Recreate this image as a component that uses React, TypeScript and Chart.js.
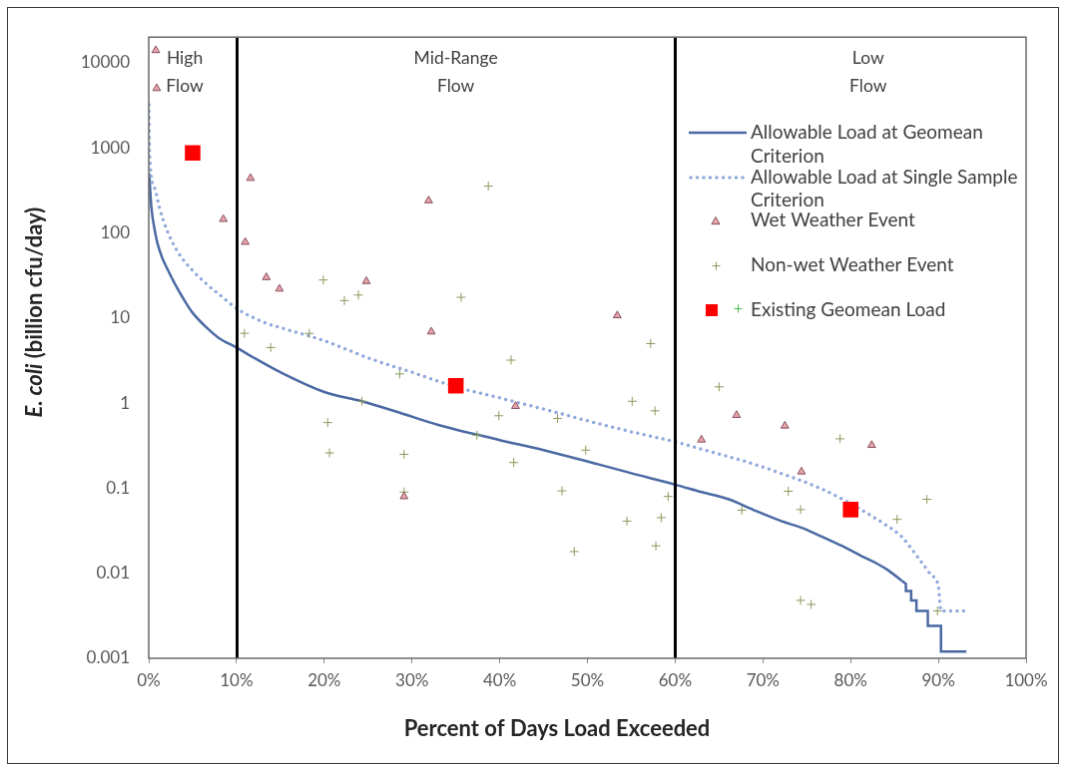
import React, { useEffect, useRef } from 'react';
import { Chart, registerables } from 'chart.js';

Chart.register(...registerables);

// ---------- data ----------
const xTickValues = [0, 10, 20, 30, 40, 50, 60, 70, 80, 90, 100];
const yTickValues = [0.001, 0.01, 0.1, 1, 10, 100, 1000, 10000];
const zoneBoundaries = [10, 60];
const zoneNames = [['High', 'Flow'], ['Mid-Range', 'Flow'], ['Low', 'Flow']];

// smooth part of the geomean allowable-load curve
const geomeanX = [0.05, 0.3, 0.7, 1, 1.5, 2, 3, 4, 5, 6.6, 8, 10, 12, 15, 20, 24.3, 28.6, 33.1, 39.9, 45, 51.3, 55, 60, 63, 66.1, 69, 72.1, 74.5, 76.7, 79, 81.2, 83, 84.3, 85.8];
const geomeanY = [500, 200, 105, 75, 52, 40, 25, 16.5, 11.5, 7.7, 5.8, 4.5, 3.4, 2.3, 1.35, 1.05, 0.77, 0.55, 0.37, 0.28, 0.19, 0.15, 0.11, 0.09, 0.074, 0.055, 0.041, 0.034, 0.027, 0.021, 0.016, 0.013, 0.0108, 0.0082];
// stepped tail of the geomean curve
const geomeanTailX = [85.8, 86.3, 86.3, 86.9, 86.9, 87.5, 87.5, 88.8, 88.8, 90.3, 90.3, 93.2];
const geomeanTailY = [0.0082, 0.0075, 0.0062, 0.0062, 0.0048, 0.0048, 0.0036, 0.0036, 0.0024, 0.0024, 0.0012, 0.0012];

const singleX = [0.02, 0.1, 0.7, 1.2, 2, 3.3, 5, 6.6, 8, 10, 13, 16, 20, 25, 30, 35, 40, 45, 50, 55, 60, 64, 68.4, 72, 76, 79, 81.7, 84, 85.8, 87, 88.1, 89.2, 90, 90.3, 93.2];
const singleY = [3200, 800, 330, 200, 112, 60, 36, 25, 19, 13, 9, 7.2, 5.4, 3.4, 2.3, 1.55, 1.15, 0.85, 0.62, 0.46, 0.35, 0.27, 0.2, 0.15, 0.105, 0.075, 0.052, 0.037, 0.027, 0.019, 0.0134, 0.0095, 0.0071, 0.0036, 0.0036];

const wetX = [0.8, 0.9, 8.5, 11.6, 11.0, 13.4, 14.9, 24.8, 31.9, 32.2, 41.8, 53.4, 63.0, 67.0, 72.5, 74.4, 82.4, 29.1];
const wetY = [14000, 5000, 145, 440, 78, 30, 22, 27, 240, 6.9, 0.92, 10.7, 0.37, 0.72, 0.54, 0.156, 0.32, 0.08];

const dryX = [10.9, 13.9, 19.9, 22.3, 23.9, 18.3, 28.6, 24.3, 20.4, 20.6, 29.1, 29.1, 38.7, 35.6, 41.3, 39.9, 46.6, 37.4, 41.6, 49.8, 47.1, 57.2, 55.1, 57.7, 59.2, 48.5, 54.5, 58.4, 57.8, 65.0, 78.8, 72.9, 74.3, 67.6, 88.7, 85.3, 74.3, 75.5, 89.9];
const dryY = [6.6, 4.5, 28, 16, 18.6, 6.6, 2.2, 1.05, 0.59, 0.26, 0.25, 0.09, 355, 17.5, 3.2, 0.71, 0.66, 0.42, 0.2, 0.28, 0.093, 5.0, 1.05, 0.81, 0.08, 0.018, 0.041, 0.045, 0.021, 1.55, 0.38, 0.092, 0.056, 0.055, 0.074, 0.043, 0.0048, 0.0043, 0.0036];

const existingX = [5, 35, 80];
const existingY = [870, 1.6, 0.056];

const legendLabels = [
  ['Allowable Load at Geomean', 'Criterion'],
  ['Allowable Load at Single Sample', 'Criterion'],
  ['Wet Weather Event'],
  ['Non-wet Weather Event'],
  ['Existing Geomean Load'],
];

// ---------- styles ----------
const FONT = 'Lato, "Open Sans", sans-serif';
const TEXT = '#404040';
const SOLID = '#4a69a3';
const DOTTED = '#8fa8dc';
const TRI_BG = '#e7a3aa';
const TRI_BD = '#86505e';
const CROSS = '#8a9a5b';
const SQUARE = '#ff0000';

const zip = (xs: number[], ys: number[]) => xs.map((x, i) => ({ x, y: ys[i] }));

const overlayPlugin = {
  id: 'overlay',
  afterDatasetsDraw(chart: any) {
    const { ctx, chartArea, scales } = chart;
    const xs = scales.x;
    ctx.save();
    // zone boundary lines
    ctx.strokeStyle = '#000';
    ctx.lineWidth = 3;
    zoneBoundaries.forEach((b) => {
      const px = Math.round(xs.getPixelForValue(b)) + 0.5;
      ctx.beginPath();
      ctx.moveTo(px, chartArea.top);
      ctx.lineTo(px, chartArea.bottom);
      ctx.stroke();
    });
    // plot border
    ctx.strokeStyle = '#6a6a6a';
    ctx.lineWidth = 1.5;
    ctx.strokeRect(chartArea.left, chartArea.top, chartArea.right - chartArea.left, chartArea.bottom - chartArea.top);

    // zone labels
    ctx.fillStyle = TEXT;
    ctx.font = `17.5px ${FONT}`;
    ctx.textAlign = 'center';
    ctx.textBaseline = 'middle';
    const zoneCenters = [4.1, 35, 82];
    zoneNames.forEach((lines, i) => {
      const cx = xs.getPixelForValue(zoneCenters[i]);
      lines.forEach((t, j) => ctx.fillText(t, cx, 50 + j * 28));
    });

    // legend
    const sx0 = 682, sx1 = 740, tx = 744;
    ctx.textAlign = 'left';
    ctx.font = `19px ${FONT}`;
    // solid
    ctx.strokeStyle = SOLID; ctx.lineWidth = 2.5; ctx.setLineDash([]);
    ctx.beginPath(); ctx.moveTo(sx0, 125); ctx.lineTo(sx1, 125); ctx.stroke();
    ctx.fillText(legendLabels[0][0], tx, 125);
    ctx.fillText(legendLabels[0][1], tx, 149);
    // dotted
    ctx.strokeStyle = DOTTED; ctx.lineWidth = 3.5; ctx.lineCap = 'round'; ctx.setLineDash([0, 6.5]);
    ctx.beginPath(); ctx.moveTo(sx0 + 2, 170); ctx.lineTo(sx1, 170); ctx.stroke();
    ctx.setLineDash([]); ctx.lineCap = 'butt';
    ctx.fillText(legendLabels[1][0], tx, 170);
    ctx.fillText(legendLabels[1][1], tx, 193);
    // triangle
    const tri = (cx: number, cy: number, r: number) => {
      ctx.beginPath();
      ctx.moveTo(cx, cy - r);
      ctx.lineTo(cx + r * 0.9, cy + r * 0.6);
      ctx.lineTo(cx - r * 0.9, cy + r * 0.6);
      ctx.closePath();
      ctx.fillStyle = TRI_BG; ctx.fill();
      ctx.strokeStyle = TRI_BD; ctx.lineWidth = 1; ctx.stroke();
    };
    tri(709, 214, 4.5);
    ctx.fillStyle = TEXT;
    ctx.fillText(legendLabels[2][0], tx, 213);
    // cross
    const cross = (cx: number, cy: number, r: number, c: string) => {
      ctx.strokeStyle = c; ctx.lineWidth = 1;
      ctx.beginPath();
      ctx.moveTo(cx - r, cy); ctx.lineTo(cx + r, cy);
      ctx.moveTo(cx, cy - r); ctx.lineTo(cx, cy + r);
      ctx.stroke();
    };
    cross(709.5, 258.5, 4, CROSS);
    ctx.fillStyle = TEXT;
    ctx.fillText(legendLabels[3][0], tx, 258);
    // square + plus
    ctx.fillStyle = SQUARE;
    ctx.fillRect(699, 297, 12, 12);
    cross(731.5, 301.5, 4, '#4cb84c');
    ctx.fillStyle = TEXT;
    ctx.fillText(legendLabels[4][0], tx, 303);

    // axis titles
    ctx.fillStyle = '#262626';
    ctx.font = `bold 22px ${FONT}`;
    ctx.textAlign = 'center';
    ctx.fillText('Percent of Days Load Exceeded', 550, 723);

    ctx.save();
    ctx.translate(27, 305);
    ctx.rotate(-Math.PI / 2);
    const partA = 'E. coli';
    const partB = ' (billion cfu/day)';
    const size = 22;
    ctx.font = `italic bold ${size}px ${FONT}`;
    const wA = ctx.measureText(partA).width;
    ctx.font = `bold ${size}px ${FONT}`;
    const wB = ctx.measureText(partB).width;
    const start = -(wA + wB) / 2;
    ctx.textAlign = 'left';
    ctx.font = `italic bold ${size}px ${FONT}`;
    ctx.fillText(partA, start, 0);
    ctx.font = `bold ${size}px ${FONT}`;
    ctx.fillText(partB, start + wA, 0);
    ctx.restore();

    ctx.restore();
  },
};

export default function App() {
  const ref = useRef<HTMLCanvasElement | null>(null);

  useEffect(() => {
    if (!ref.current) return;
    const chart = new Chart(ref.current, {
      type: 'scatter',
      data: {
        datasets: [
          {
            label: 'Existing Geomean Load',
            data: zip(existingX, existingY),
            pointStyle: 'rect',
            pointRadius: 11,
            backgroundColor: SQUARE,
            borderColor: SQUARE,
            borderWidth: 0,
            order: 1,
          },
          {
            label: 'Wet Weather Event',
            data: zip(wetX, wetY),
            pointStyle: 'triangle',
            pointRadius: 4.5,
            backgroundColor: TRI_BG,
            borderColor: TRI_BD,
            borderWidth: 1,
            order: 2,
          },
          {
            label: 'Non-wet Weather Event',
            data: zip(dryX, dryY),
            pointStyle: 'cross',
            pointRadius: 4.5,
            backgroundColor: CROSS,
            borderColor: CROSS,
            borderWidth: 1,
            order: 3,
          },
          {
            label: 'Allowable Load at Geomean Criterion',
            data: zip(geomeanX, geomeanY),
            showLine: true,
            pointRadius: 0,
            borderColor: SOLID,
            borderWidth: 2.5,
            cubicInterpolationMode: 'monotone',
            order: 5,
          } as any,
          {
            label: 'Allowable Load at Geomean Criterion (tail)',
            data: zip(geomeanTailX, geomeanTailY),
            showLine: true,
            pointRadius: 0,
            borderColor: SOLID,
            borderWidth: 2.5,
            tension: 0,
            order: 5,
          } as any,
          {
            label: 'Allowable Load at Single Sample Criterion',
            data: zip(singleX, singleY),
            showLine: true,
            pointRadius: 0,
            borderColor: DOTTED,
            borderWidth: 3.5,
            borderDash: [0, 6.5],
            borderCapStyle: 'round',
            cubicInterpolationMode: 'monotone',
            order: 4,
          } as any,
        ],
      },
      options: {
        animation: false,
        responsive: false,
        layout: { padding: { left: 0, right: 32, top: 25, bottom: 0 } },
        plugins: {
          legend: { display: false },
          tooltip: { enabled: false },
          title: { display: false },
        },
        scales: {
          x: {
            type: 'linear',
            min: 0,
            max: 100,
            afterFit: (s: any) => { s.height = 105; },
            afterBuildTicks: (s: any) => { s.ticks = xTickValues.map((v) => ({ value: v })); },
            grid: { display: true, drawOnChartArea: false, drawTicks: true, tickLength: 5, color: '#888' },
            border: { display: false },
            ticks: {
              color: '#595959',
              font: { family: FONT, size: 17 },
              padding: 7,
              maxRotation: 0,
              callback: (v: any) => `${v}%`,
            },
          },
          y: {
            type: 'logarithmic',
            min: 0.001,
            max: 20000,
            afterFit: (s: any) => { s.width = 141; },
            afterBuildTicks: (s: any) => { s.ticks = yTickValues.map((v) => ({ value: v })); },
            grid: { display: false, drawTicks: false },
            border: { display: false },
            ticks: {
              color: '#595959',
              font: { family: FONT, size: 17 },
              padding: 19,
              callback: (v: any) => (yTickValues.includes(v) ? String(v) : ''),
            },
          },
        },
      },
      plugins: [overlayPlugin],
    } as any);
    return () => chart.destroy();
  }, []);

  return (
    <canvas
      ref={ref}
      width={1052}
      height={757}
      style={{ position: 'absolute', left: 7, top: 7, border: '1px solid #3a3a3a', width: 1052, height: 757 }}
    />
  );
}
